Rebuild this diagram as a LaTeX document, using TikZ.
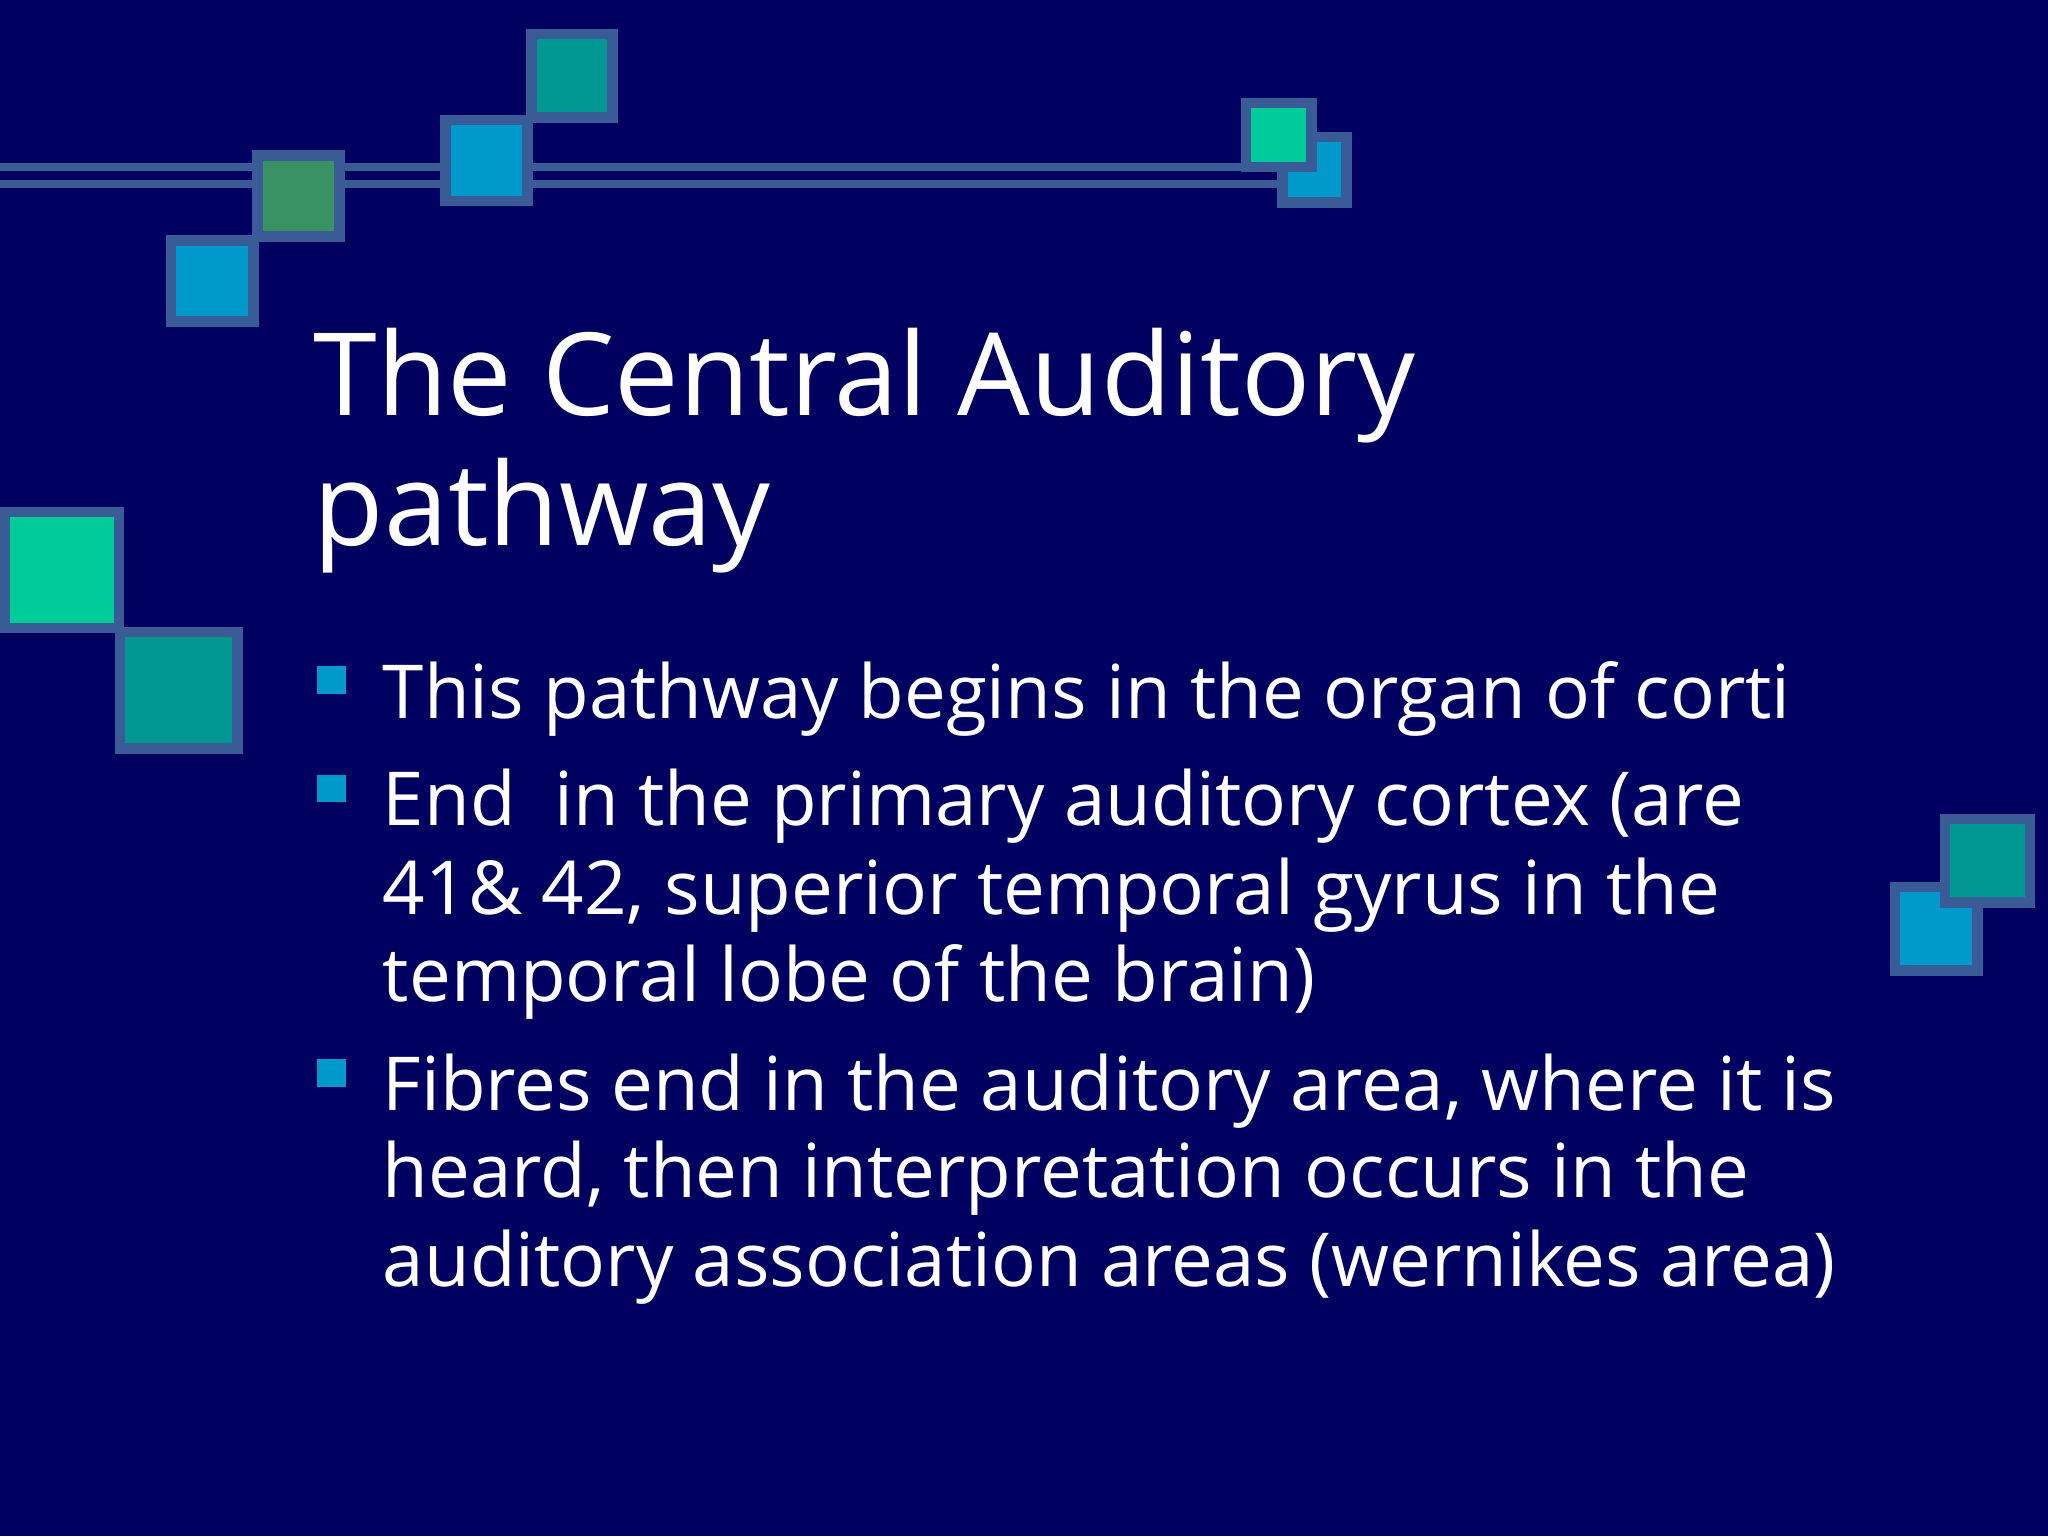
\documentclass[tikz,border=0pt]{standalone}
\usepackage{fontspec}
\setmainfont{Open Sans}
\definecolor{bg}{RGB}{0,0,96}
\definecolor{edge}{RGB}{58,92,150}
\definecolor{teal}{RGB}{0,150,145}
\definecolor{blu}{RGB}{0,153,204}
\definecolor{grn}{RGB}{58,145,100}
\definecolor{mint}{RGB}{0,204,153}
\tikzset{sq/.style={draw=edge,line width=8pt},
 ln/.style={draw=edge,line width=6pt},
 title/.style={anchor=base west,text=white,font=\fontsize{88}{100}\selectfont,inner sep=0},
 body/.style={anchor=base west,text=white,font=\fontsize{57}{67}\selectfont,inner sep=0},
 bul/.style={fill=blu}}
\begin{document}
\begin{tikzpicture}[x=1pt,y=-1pt]
\fill[bg] (0,0) rectangle (1568,1176);
\useasboundingbox (0,0) rectangle (1568,1176);
\draw[ln] (0,128) -- (985,128);
\draw[ln] (0,141) -- (985,141);
\filldraw[sq,fill=teal] (407,26) rectangle (469,90);
\filldraw[sq,fill=blu] (341,92) rectangle (404,154);
\filldraw[sq,fill=grn] (197,119) rectangle (260,181);
\filldraw[sq,fill=blu] (131,184) rectangle (194,246);
\filldraw[sq,fill=blu] (982,105) rectangle (1031,155);
\filldraw[sq,fill=mint] (954,79) rectangle (1004,128);
\filldraw[sq,fill=mint] (4,392) rectangle (91,481);
\filldraw[sq,fill=teal] (92,484) rectangle (182,573);
\filldraw[sq,fill=blu] (1451,679) rectangle (1514,743);
\filldraw[sq,fill=teal] (1489,627) rectangle (1554,691);
\node[title] (t1) at (240,318) {The Central Auditory};
\node[title] (t2) at (240,418) {pathway};
\fill[bul] (243,510) rectangle (265,531);
\fill[bul] (243,593) rectangle (265,614);
\fill[bul] (243,811) rectangle (265,832);
\node[body] (b1) at (293,550) {This pathway begins in the organ of corti};
\node[body] (b2) at (293,632) {End\ \ in the primary auditory cortex (are};
\node[body] (b3) at (293,700) {41\& 42, superior temporal gyrus in the};
\node[body] (b4) at (293,767) {temporal lobe of the brain)};
\node[body] (b5) at (293,850) {Fibres end in the auditory area, where it is};
\node[body] (b6) at (293,917) {heard, then interpretation occurs in the};
\node[body] (b7) at (293,985) {auditory association areas (wernikes area)};
\end{tikzpicture}
\end{document}
